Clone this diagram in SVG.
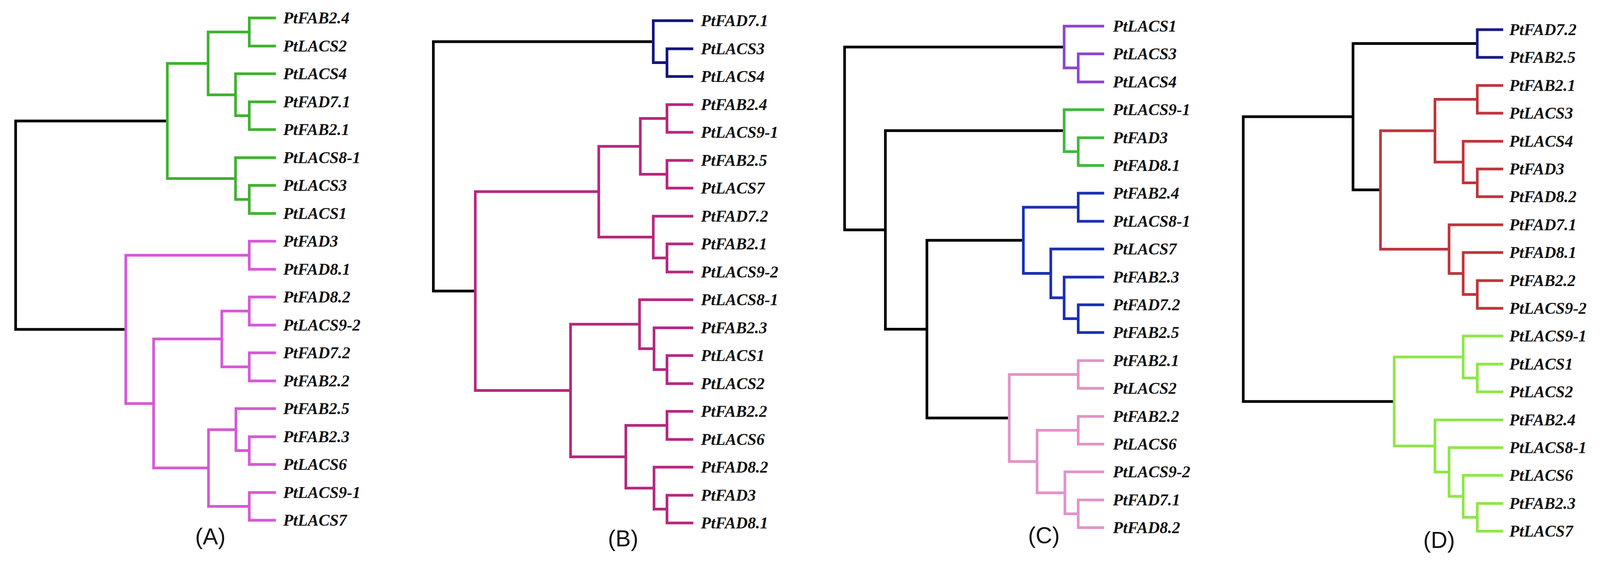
<svg xmlns="http://www.w3.org/2000/svg" width="4198" height="1440" viewBox="0 0 4198 1440">
<style>
.e{fill:none;stroke-width:7;stroke-linejoin:miter;stroke-linecap:butt}
.k{stroke:#000}
.ga{stroke:#3db22e}.ma{stroke:#d658d6}
.nb{stroke:#14147e}.mb{stroke:#b6287f}
.pc{stroke:#8c45d0}.gc{stroke:#3bbb3b}.bc{stroke:#1b2fb4}.kc{stroke:#e393c6}
.nd{stroke:#1a1a8a}.rd{stroke:#bf353b}.ld{stroke:#8ee648}
.t{font-family:"Liberation Serif","Times New Roman",serif;font-weight:bold;font-style:italic;font-size:43px;fill:#111}
.p{font-family:"Liberation Sans",Arial,sans-serif;font-size:60px;fill:#111;text-anchor:middle}
</style>
<rect width="4198" height="1440" fill="#fff"/>
<g id="figure" transform="matrix(0.9757 0 0 1 0 0)">
<g id="connectors">
<g id="conn-A">
<path class="e k" d="M439 310 H41 V844 H330"/>
<path class="e ga" d="M546 162.5 H439 V457.5 H618"/>
<path class="e ga" d="M654 82 H546 V243 H618"/>
<path class="e ga" d="M724 46 H654 V118 H724"/>
<path class="e ga" d="M724 189 H618 V296.5 H654"/>
<path class="e ga" d="M724 261 H654 V332 H724"/>
<path class="e ga" d="M724 404 H618 V511 H654"/>
<path class="e ga" d="M724 475 H654 V547 H724"/>
<path class="e ma" d="M654 654 H330 V1034 H403"/>
<path class="e ma" d="M724 618 H654 V690 H724"/>
<path class="e ma" d="M582 868.5 H403 V1199 H547"/>
<path class="e ma" d="M654 797 H582 V940 H654"/>
<path class="e ma" d="M724 761 H654 V833 H724"/>
<path class="e ma" d="M724 904 H654 V976 H724"/>
<path class="e ma" d="M619 1101 H547 V1297.5 H654"/>
<path class="e ma" d="M724 1047 H619 V1154.5 H654"/>
<path class="e ma" d="M724 1119 H654 V1190 H724"/>
<path class="e ma" d="M724 1262 H654 V1333 H724"/>
</g>
<g id="conn-B">
<path class="e k" d="M1714 106.75 H1137 V745.8 H1247"/>
<path class="e nb" d="M1819 53 H1714 V160.5 H1750"/>
<path class="e nb" d="M1819 125 H1750 V196 H1819"/>
<path class="e mb" d="M1571 491 H1247 V1000.6 H1497"/>
<path class="e mb" d="M1680 375 H1571 V607.5 H1714"/>
<path class="e mb" d="M1750 303.5 H1680 V446.5 H1750"/>
<path class="e mb" d="M1819 268 H1750 V339 H1819"/>
<path class="e mb" d="M1819 411 H1750 V482 H1819"/>
<path class="e mb" d="M1819 554 H1714 V661 H1750"/>
<path class="e mb" d="M1819 625 H1750 V697 H1819"/>
<path class="e mb" d="M1678 830.75 H1497 V1170.4 H1642"/>
<path class="e mb" d="M1819 768 H1678 V893.5 H1716"/>
<path class="e mb" d="M1819 840 H1716 V947 H1750"/>
<path class="e mb" d="M1819 911 H1750 V983 H1819"/>
<path class="e mb" d="M1750 1090 H1642 V1250.75 H1716"/>
<path class="e mb" d="M1819 1054 H1750 V1126 H1819"/>
<path class="e mb" d="M1819 1197 H1716 V1304.5 H1750"/>
<path class="e mb" d="M1819 1269 H1750 V1340 H1819"/>
</g>
<g id="conn-C">
<path class="e k" d="M2792 120.5 H2216 V589 H2323"/>
<path class="e k" d="M2792 334.75 H2323 V843.4 H2432"/>
<path class="e k" d="M2685 615.75 H2432 V1071 H2648"/>
<path class="e pc" d="M2897 67 H2792 V174 H2829"/>
<path class="e pc" d="M2897 138 H2829 V210 H2897"/>
<path class="e gc" d="M2897 281 H2792 V388.5 H2829"/>
<path class="e gc" d="M2897 353 H2829 V424 H2897"/>
<path class="e bc" d="M2829 531 H2685 V700.5 H2757"/>
<path class="e bc" d="M2897 495 H2829 V567 H2897"/>
<path class="e bc" d="M2897 638 H2757 V763 H2792"/>
<path class="e bc" d="M2897 710 H2792 V816.5 H2829"/>
<path class="e bc" d="M2897 781 H2829 V852 H2897"/>
<path class="e kc" d="M2829 959.5 H2648 V1182.6 H2721"/>
<path class="e kc" d="M2897 924 H2829 V995 H2897"/>
<path class="e kc" d="M2829 1102.5 H2721 V1262.75 H2794"/>
<path class="e kc" d="M2897 1067 H2829 V1138 H2897"/>
<path class="e kc" d="M2897 1209 H2794 V1316.5 H2829"/>
<path class="e kc" d="M2897 1281 H2829 V1352 H2897"/>
</g>
<g id="conn-D">
<path class="e k" d="M3550 299 H3262 V1028.7 H3658"/>
<path class="e k" d="M3876 111.5 H3550 V486.6 H3622"/>
<path class="e nd" d="M3944 76 H3876 V147 H3944"/>
<path class="e rd" d="M3765 334.9 H3622 V638.4 H3802"/>
<path class="e rd" d="M3876 254.5 H3765 V415.25 H3839"/>
<path class="e rd" d="M3944 219 H3876 V290 H3944"/>
<path class="e rd" d="M3944 362 H3839 V468.5 H3876"/>
<path class="e rd" d="M3944 433 H3876 V504 H3944"/>
<path class="e rd" d="M3944 576 H3802 V700.75 H3839"/>
<path class="e rd" d="M3944 647 H3839 V754.5 H3876"/>
<path class="e rd" d="M3944 719 H3876 V790 H3944"/>
<path class="e ld" d="M3839 914.75 H3658 V1142.7 H3765"/>
<path class="e ld" d="M3944 861 H3839 V968.5 H3876"/>
<path class="e ld" d="M3944 933 H3876 V1004 H3944"/>
<path class="e ld" d="M3944 1076 H3765 V1209.4 H3802"/>
<path class="e ld" d="M3944 1147 H3802 V1271.75 H3839"/>
<path class="e ld" d="M3944 1218 H3839 V1325.5 H3876"/>
<path class="e ld" d="M3944 1290 H3876 V1361 H3944"/>
</g>
</g>
<g id="nodes-A">
<g id="A-PtFAB2.4"><text class="t" x="743" y="60">PtFAB2.4</text></g>
<g id="A-PtLACS2"><text class="t" x="743" y="132">PtLACS2</text></g>
<g id="A-PtLACS4"><text class="t" x="743" y="203">PtLACS4</text></g>
<g id="A-PtFAD7.1"><text class="t" x="743" y="275">PtFAD7.1</text></g>
<g id="A-PtFAB2.1"><text class="t" x="743" y="346">PtFAB2.1</text></g>
<g id="A-PtLACS8-1"><text class="t" x="743" y="418">PtLACS8-1</text></g>
<g id="A-PtLACS3"><text class="t" x="743" y="489">PtLACS3</text></g>
<g id="A-PtLACS1"><text class="t" x="743" y="561">PtLACS1</text></g>
<g id="A-PtFAD3"><text class="t" x="743" y="632">PtFAD3</text></g>
<g id="A-PtFAD8.1"><text class="t" x="743" y="704">PtFAD8.1</text></g>
<g id="A-PtFAD8.2"><text class="t" x="743" y="775">PtFAD8.2</text></g>
<g id="A-PtLACS9-2"><text class="t" x="743" y="847">PtLACS9-2</text></g>
<g id="A-PtFAD7.2"><text class="t" x="743" y="918">PtFAD7.2</text></g>
<g id="A-PtFAB2.2"><text class="t" x="743" y="990">PtFAB2.2</text></g>
<g id="A-PtFAB2.5"><text class="t" x="743" y="1061">PtFAB2.5</text></g>
<g id="A-PtFAB2.3"><text class="t" x="743" y="1133">PtFAB2.3</text></g>
<g id="A-PtLACS6"><text class="t" x="743" y="1204">PtLACS6</text></g>
<g id="A-PtLACS9-1"><text class="t" x="743" y="1276">PtLACS9-1</text></g>
<g id="A-PtLACS7"><text class="t" x="743" y="1347">PtLACS7</text></g>
<g id="label-A"><text class="p" x="552" y="1395">(A)</text></g>
</g>
<g id="nodes-B">
<g id="B-PtFAD7.1"><text class="t" x="1839" y="67">PtFAD7.1</text></g>
<g id="B-PtLACS3"><text class="t" x="1839" y="139">PtLACS3</text></g>
<g id="B-PtLACS4"><text class="t" x="1839" y="210">PtLACS4</text></g>
<g id="B-PtFAB2.4"><text class="t" x="1839" y="282">PtFAB2.4</text></g>
<g id="B-PtLACS9-1"><text class="t" x="1839" y="353">PtLACS9-1</text></g>
<g id="B-PtFAB2.5"><text class="t" x="1839" y="425">PtFAB2.5</text></g>
<g id="B-PtLACS7"><text class="t" x="1839" y="496">PtLACS7</text></g>
<g id="B-PtFAD7.2"><text class="t" x="1839" y="568">PtFAD7.2</text></g>
<g id="B-PtFAB2.1"><text class="t" x="1839" y="639">PtFAB2.1</text></g>
<g id="B-PtLACS9-2"><text class="t" x="1839" y="711">PtLACS9-2</text></g>
<g id="B-PtLACS8-1"><text class="t" x="1839" y="782">PtLACS8-1</text></g>
<g id="B-PtFAB2.3"><text class="t" x="1839" y="854">PtFAB2.3</text></g>
<g id="B-PtLACS1"><text class="t" x="1839" y="925">PtLACS1</text></g>
<g id="B-PtLACS2"><text class="t" x="1839" y="997">PtLACS2</text></g>
<g id="B-PtFAB2.2"><text class="t" x="1839" y="1068">PtFAB2.2</text></g>
<g id="B-PtLACS6"><text class="t" x="1839" y="1140">PtLACS6</text></g>
<g id="B-PtFAD8.2"><text class="t" x="1839" y="1211">PtFAD8.2</text></g>
<g id="B-PtFAD3"><text class="t" x="1839" y="1283">PtFAD3</text></g>
<g id="B-PtFAD8.1"><text class="t" x="1839" y="1354">PtFAD8.1</text></g>
<g id="label-B"><text class="p" x="1635" y="1400">(B)</text></g>
</g>
<g id="nodes-C">
<g id="C-PtLACS1"><text class="t" x="2920" y="81">PtLACS1</text></g>
<g id="C-PtLACS3"><text class="t" x="2920" y="152">PtLACS3</text></g>
<g id="C-PtLACS4"><text class="t" x="2920" y="224">PtLACS4</text></g>
<g id="C-PtLACS9-1"><text class="t" x="2920" y="295">PtLACS9-1</text></g>
<g id="C-PtFAD3"><text class="t" x="2920" y="367">PtFAD3</text></g>
<g id="C-PtFAD8.1"><text class="t" x="2920" y="438">PtFAD8.1</text></g>
<g id="C-PtFAB2.4"><text class="t" x="2920" y="509">PtFAB2.4</text></g>
<g id="C-PtLACS8-1"><text class="t" x="2920" y="581">PtLACS8-1</text></g>
<g id="C-PtLACS7"><text class="t" x="2920" y="652">PtLACS7</text></g>
<g id="C-PtFAB2.3"><text class="t" x="2920" y="724">PtFAB2.3</text></g>
<g id="C-PtFAD7.2"><text class="t" x="2920" y="795">PtFAD7.2</text></g>
<g id="C-PtFAB2.5"><text class="t" x="2920" y="866">PtFAB2.5</text></g>
<g id="C-PtFAB2.1"><text class="t" x="2920" y="938">PtFAB2.1</text></g>
<g id="C-PtLACS2"><text class="t" x="2920" y="1009">PtLACS2</text></g>
<g id="C-PtFAB2.2"><text class="t" x="2920" y="1081">PtFAB2.2</text></g>
<g id="C-PtLACS6"><text class="t" x="2920" y="1152">PtLACS6</text></g>
<g id="C-PtLACS9-2"><text class="t" x="2920" y="1223">PtLACS9-2</text></g>
<g id="C-PtFAD7.1"><text class="t" x="2920" y="1295">PtFAD7.1</text></g>
<g id="C-PtFAD8.2"><text class="t" x="2920" y="1366">PtFAD8.2</text></g>
<g id="label-C"><text class="p" x="2739" y="1392">(C)</text></g>
</g>
<g id="nodes-D">
<g id="D-PtFAD7.2"><text class="t" x="3960" y="90">PtFAD7.2</text></g>
<g id="D-PtFAB2.5"><text class="t" x="3960" y="161">PtFAB2.5</text></g>
<g id="D-PtFAB2.1"><text class="t" x="3960" y="233">PtFAB2.1</text></g>
<g id="D-PtLACS3"><text class="t" x="3960" y="304">PtLACS3</text></g>
<g id="D-PtLACS4"><text class="t" x="3960" y="376">PtLACS4</text></g>
<g id="D-PtFAD3"><text class="t" x="3960" y="447">PtFAD3</text></g>
<g id="D-PtFAD8.2"><text class="t" x="3960" y="518">PtFAD8.2</text></g>
<g id="D-PtFAD7.1"><text class="t" x="3960" y="590">PtFAD7.1</text></g>
<g id="D-PtFAD8.1"><text class="t" x="3960" y="661">PtFAD8.1</text></g>
<g id="D-PtFAB2.2"><text class="t" x="3960" y="733">PtFAB2.2</text></g>
<g id="D-PtLACS9-2"><text class="t" x="3960" y="804">PtLACS9-2</text></g>
<g id="D-PtLACS9-1"><text class="t" x="3960" y="875">PtLACS9-1</text></g>
<g id="D-PtLACS1"><text class="t" x="3960" y="947">PtLACS1</text></g>
<g id="D-PtLACS2"><text class="t" x="3960" y="1018">PtLACS2</text></g>
<g id="D-PtFAB2.4"><text class="t" x="3960" y="1090">PtFAB2.4</text></g>
<g id="D-PtLACS8-1"><text class="t" x="3960" y="1161">PtLACS8-1</text></g>
<g id="D-PtLACS6"><text class="t" x="3960" y="1232">PtLACS6</text></g>
<g id="D-PtFAB2.3"><text class="t" x="3960" y="1304">PtFAB2.3</text></g>
<g id="D-PtLACS7"><text class="t" x="3960" y="1375">PtLACS7</text></g>
<g id="label-D"><text class="p" x="3776" y="1404">(D)</text></g>
</g>
</g>
</svg>
